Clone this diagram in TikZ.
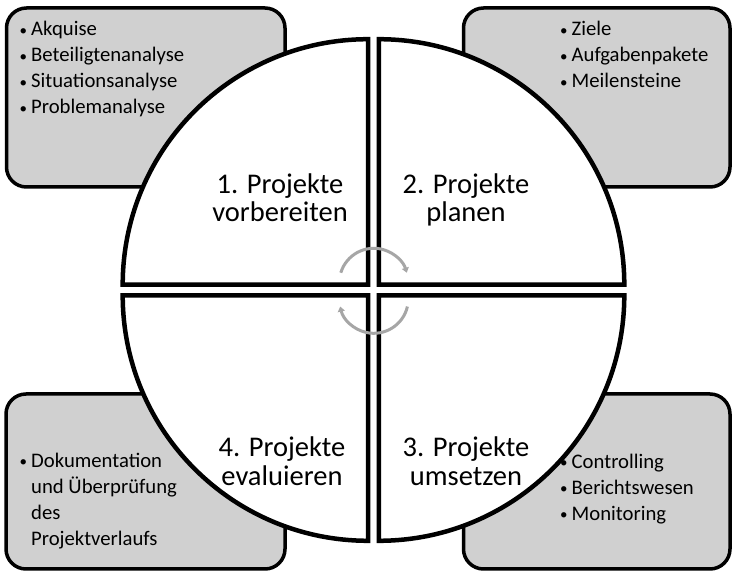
\documentclass[tikz,border=0pt]{standalone}
\usepackage{fontspec}
\setmainfont{Carlito}
\usetikzlibrary{arrows.meta}
\definecolor{boxgray}{RGB}{208,208,208}
\definecolor{arrgray}{RGB}{166,166,166}
\newcommand\itembul{\makebox[11.5pt][l]{\raisebox{0.5pt}{\fontsize{15}{15}\selectfont\textbullet}}}
\newcommand\itemgap{\hspace*{11.5pt}}
\begin{document}
\begin{tikzpicture}[x=1pt,y=1pt,
  infobox/.style={draw=black, line width=3.5pt, fill=boxgray, rounded corners=20pt, inner sep=0pt},
  quarter/.style={draw=black, line width=4.5pt, fill=white, line join=miter},
  phase/.style={inner sep=0pt, anchor=base, font=\fontsize{28.5}{28.4}\selectfont},
  items/.style={inner sep=0pt, anchor=base west, font=\fontsize{20.7}{26}\selectfont},
  cyc/.style={draw=arrgray, line width=3pt, -{Triangle[length=5pt,width=7pt]}}]
\useasboundingbox (0,0) rectangle (734,573);
% grey boxes
\node[infobox, minimum width=278.5pt, minimum height=179pt] (b1) at (145.75,475.5) {};
\node[infobox, minimum width=266.5pt, minimum height=179pt] (b2) at (596.75,475.5) {};
\node[infobox, minimum width=279pt, minimum height=175pt] (b4) at (145.5,91.5) {};
\node[infobox, minimum width=266.5pt, minimum height=175pt] (b3) at (596.75,91.5) {};
% lists
\node[items] (l1) at (19.5,537) {\begin{tabular}[t]{@{}l@{}}\itembul Akquise\\\itembul Beteiligtenanalyse\\\itembul Situationsanalyse\\\itembul Problemanalyse\end{tabular}};
\node[items] (l2) at (560,537) {\begin{tabular}[t]{@{}l@{}}\itembul Ziele\\\itembul Aufgabenpakete\\\itembul Meilensteine\end{tabular}};
\node[items] (l4) at (19.5,105.7) {\begin{tabular}[t]{@{}l@{}}\itembul Dokumentation\\\itemgap und Überprüfung\\\itemgap des\\\itemgap Projektverlaufs\end{tabular}};
\node[items] (l3) at (560,104.7) {\begin{tabular}[t]{@{}l@{}}\itembul Controlling\\\itembul Berichtswesen\\\itembul Monitoring\end{tabular}};
% quarters
\coordinate (c1) at (368.2,288.3);
\coordinate (c2) at (378.8,288.3);
\coordinate (c3) at (378.8,277.7);
\coordinate (c4) at (368.2,277.7);
\draw[quarter] (c1) -- ++(0,245.5) arc[start angle=90, end angle=180, radius=245.5] -- cycle;
\draw[quarter] (c2) -- ++(0,245.5) arc[start angle=90, end angle=0, radius=245.5] -- cycle;
\draw[quarter] (c3) -- ++(0,-245.5) arc[start angle=270, end angle=360, radius=245.5] -- cycle;
\draw[quarter] (c4) -- ++(0,-245.5) arc[start angle=270, end angle=180, radius=245.5] -- cycle;
% phase labels
\node[phase] (t1) at (280,379.7) {\begin{tabular}[t]{@{}c@{}}1. Projekte\\vorbereiten\end{tabular}};
\node[phase] (t2) at (466,379.7) {\begin{tabular}[t]{@{}c@{}}2. Projekte\\planen\end{tabular}};
\node[phase] (t3) at (466,116) {\begin{tabular}[t]{@{}c@{}}3. Projekte\\umsetzen\end{tabular}};
\node[phase] (t4) at (282,116) {\begin{tabular}[t]{@{}c@{}}4. Projekte\\evaluieren\end{tabular}};
% cycle arrows
\coordinate (u) at (373.8,290.2);
\coordinate (d) at (373.8,274.2);
\draw[cyc] (u) ++(163:34.5) arc[start angle=163, end angle=17, radius=34.5];
\draw[cyc] (d) ++(-13:34.5) arc[start angle=-13, end angle=-167, radius=34.5];
\end{tikzpicture}
\end{document}
